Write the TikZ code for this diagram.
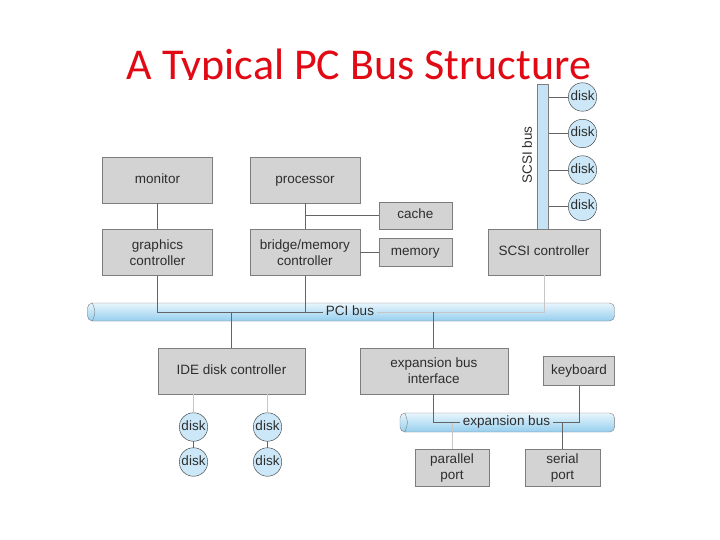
\documentclass[tikz,border=0pt]{standalone}
\usepackage{fontspec}
\setmainfont{Liberation Sans}
\newfontfamily\titlefont{Carlito}
\usepackage{tikz}
\usetikzlibrary{positioning, calc}
\definecolor{titlered}{RGB}{225, 10, 20}
\definecolor{boxgray}{RGB}{211, 211, 211}
\definecolor{edgegray}{RGB}{125, 125, 125}
\definecolor{linegray}{RGB}{100, 100, 100}
\definecolor{textgray}{RGB}{45, 45, 45}
\definecolor{buslight}{RGB}{232, 246, 253}
\definecolor{busdark}{RGB}{150, 206, 238}
\definecolor{busmid}{RGB}{198, 227, 245}
\definecolor{diskblue}{RGB}{204, 232, 248}

\begin{document}
\begin{tikzpicture}[
    x=1pt, y=-1pt,
    every node/.style={font=\fontsize{13.5}{16}\selectfont, text=textgray},
    device/.style={draw=edgegray, fill=boxgray, minimum width=110pt, minimum height=46pt, align=center, inner sep=2pt},
    oneline/.style={text height=9.2pt, text depth=2.6pt},
    disk/.style={draw=textgray, fill=diskblue, circle, minimum size=28.5pt, inner sep=0pt, oneline},
    bus/.style={draw=edgegray, rounded corners=5pt, top color=buslight, bottom color=busdark, inner sep=0pt},
    wire/.style={linegray, line width=0.8pt},
    faintwire/.style={gray!45, line width=0.8pt}
]
    \useasboundingbox (0,0) rectangle (720,540);

    % Title, cut off by the picture below it
    \begin{scope}
        \clip (0,0) rectangle (720,79.5);
        \node[anchor=base, text=titlered, font=\titlefont\fontsize{44}{44}\selectfont] (title) at (359,80) {A Typical PC Bus Structure};
    \end{scope}

    % Nodes - top row
    \node[device, oneline] (monitor) at (157.5,180) {monitor};
    \node[device, oneline, right=37pt of monitor] (processor) {processor};
    \node[device, oneline, minimum width=73pt, minimum height=27pt] (cache) at (415.3,215.5) {cache};

    % Nodes - controllers
    \node[device, below=26pt of monitor, align=center] (graphics) {graphics\\controller};
    \node[device, below=26pt of processor, align=center] (bridge) {bridge/memory\\controller};
    \node[device, oneline, minimum width=73pt, minimum height=28pt] (memory) at (415.3,252) {memory};
    \node[device, oneline, minimum width=112pt] (scsi) at (544,252) {SCSI controller};

    % SCSI bus and its disks
    \node[draw=edgegray, fill=busmid, minimum width=11pt, minimum height=145pt, inner sep=0pt] (scsibus) at (542.8,156.5) {};
    \node[rotate=90] (scsilabel) at (527,155) {SCSI bus};
    \foreach \y [count=\i] in {97,133.5,170,206.5}
        \node[disk] (sd\i) at (582.5,\y) {disk};

    % PCI bus
    \node[bus, minimum width=527pt, minimum height=18pt] (pci) at (351,312) {};
    \draw[edgegray] ([xshift=5pt]pci.north west) .. controls ([xshift=8.5pt]pci.west) .. ([xshift=5pt]pci.south west);
    \node[inner sep=3pt, oneline] (pcilabel) at (350,312) {PCI bus};

    % Nodes - lower row
    \node[device, oneline, minimum width=147pt] (ide) at (231.5,371) {IDE disk controller};
    \node[device, minimum width=148pt, align=center] (expif) at (433.8,371) {expansion bus\\interface};
    \node[device, oneline, minimum width=71pt, minimum height=29pt] (keyboard) at (579,371) {keyboard};
    \node[disk] (id1) at (193.5,427) {disk};
    \node[disk] (id2) at (267.5,427) {disk};
    \node[disk] (id3) at (193.5,462) {disk};
    \node[disk] (id4) at (267.5,462) {disk};

    % Expansion bus
    \node[bus, minimum width=214.6pt, minimum height=19pt] (expbus) at (507.3,422.5) {};
    \draw[edgegray] ([xshift=5pt]expbus.north west) .. controls ([xshift=8.5pt]expbus.west) .. ([xshift=5pt]expbus.south west);
    \node[inner sep=3pt, oneline] (explabel) at (506.5,422.5) {expansion bus};
    \node[device, minimum width=74pt, minimum height=37pt, align=center] (parallel) at (452,468) {parallel\\port};
    \node[device, minimum width=75pt, minimum height=37pt, align=center] (serial) at (562.5,468) {serial\\port};

    % Connections
    \draw[wire] (monitor) -- (graphics);
    \draw[wire] (processor) -- (bridge);
    \draw[wire] (cache.west) -- (cache.west -| processor.south);
    \draw[wire] (memory.west) -- (memory.west -| bridge.east);
    \foreach \i in {1,2,3,4}
        \draw[wire] (sd\i.west) -- (sd\i.west -| scsibus.east);
    \draw[wire] (graphics.south) |- (pcilabel.west);
    \draw[wire] (bridge.south) -- (bridge.south |- pcilabel.west);
    \draw[faintwire] (pcilabel.east) -| (scsi.south);
    \draw[wire] (ide.north |- pcilabel) -- (ide.north);
    \draw[wire] (expif.north |- pcilabel) -- (expif.north);
    \draw[faintwire] (ide.south -| id1) -- (id1);
    \draw[faintwire] (ide.south -| id2) -- (id2);
    \draw[wire] (id1) -- (id3);
    \draw[wire] (id2) -- (id4);
    \draw[wire] (expif.south) |- (explabel.west);
    \draw[wire] (explabel.east) -| (keyboard.south);
    \draw[wire] (serial.north) -- (serial.north |- explabel);
    \draw[faintwire] (parallel.north) -- (parallel.north |- explabel);
\end{tikzpicture}
\end{document}
